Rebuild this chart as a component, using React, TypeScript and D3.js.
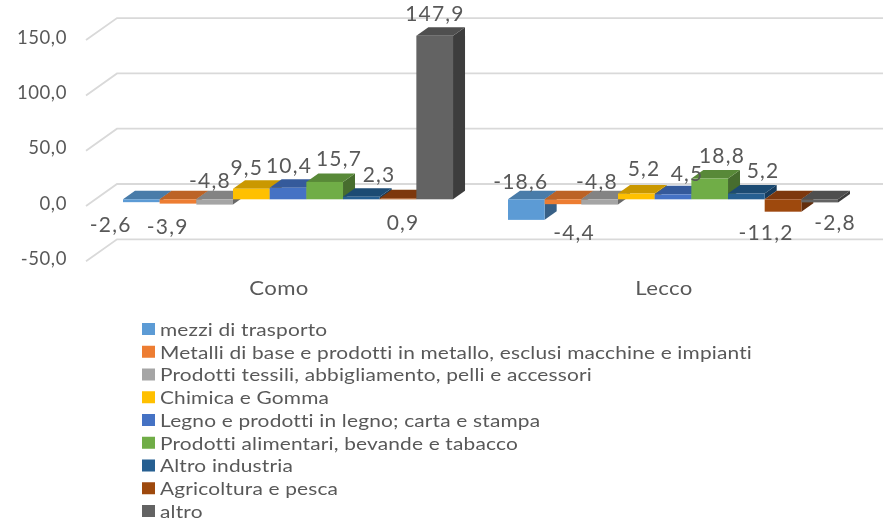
import React from "react";
import * as d3 from "d3";

const categories = ["Como", "Lecco"];
const series = [
  "mezzi di trasporto",
  "Metalli di base e prodotti in metallo, esclusi macchine e impianti",
  "Prodotti tessili, abbigliamento, pelli e accessori",
  "Chimica e Gomma",
  "Legno e prodotti in legno; carta e stampa",
  "Prodotti alimentari, bevande e tabacco",
  "Altro industria",
  "Agricoltura e pesca",
  "altro",
];
const comoValues = [-2.6, -3.9, -4.8, 9.5, 10.4, 15.7, 2.3, 0.9, 147.9];
const leccoValues = [-18.6, -4.4, -4.8, 5.2, 4.5, 18.8, 5.2, -11.2, -2.8];
const yTicks = [-50, 0, 50, 100, 150];
const colors = ["#5B9BD5", "#ED7D31", "#A5A5A5", "#FFC000", "#4472C4", "#70AD47", "#255E91", "#9E480E", "#636363"];

// hand-placed label offsets from bar centre / zero line
const comoLabelOffsets = [[-30.6, 23.7], [-10.3, 25.7], [-4.7, -20.3], [-4.6, -33.3], [1, -35.3], [14.3, -42.3], [17.7, -26.3], [5, 21.7], [0.3, -187.3]];
const leccoLabelOffsets = [[-5.6, -19.3], [11, 31.7], [-2.7, -19.3], [7.7, -32.3], [14, -27.3], [12.3, -45.3], [16.7, -30.3], [-17, 31.7], [15.3, 21.7]];

const W = 883, H = 520;
const y = d3.scaleLinear().domain([-50, 150]).range([199.3 + 55.3, 199.3 - 165.9]);
const groupStarts = [123, 508];
const barW = 36.67;
const depthX = 12, depthY = 8.5;
const INK = "#595959";
const FONT = "Lato, 'Open Sans', sans-serif";
const fmt = (v: number) => v.toFixed(1).replace(".", ",");
const shade = (c: string, k: number) => d3.rgb(c).darker(k).formatHex();

function Bar({ x, v, color }: { x: number; v: number; color: string }) {
  const top = Math.min(y(v), y(0));
  const bottom = Math.max(y(v), y(0));
  const r = x + barW;
  return (
    <g>
      <polygon points={`${r},${top} ${r + depthX},${top - depthY} ${r + depthX},${bottom - depthY} ${r},${bottom}`} fill={shade(color, 1.3)} />
      <polygon points={`${x},${top} ${x + depthX},${top - depthY} ${r + depthX},${top - depthY} ${r},${top}`} fill={shade(color, 0.65)} />
      <rect x={x} y={top} width={barW} height={bottom - top} fill={color} />
    </g>
  );
}

export default function App() {
  const groups = [comoValues, leccoValues];
  const offsets = [comoLabelOffsets, leccoLabelOffsets];
  const backOff = -15.3, frontOff = 6.7;
  return (
    <svg width={W} height={H} style={{ position: "absolute", left: 0, top: 0, background: "#fff" }} fontFamily={FONT}>
      <defs>
        <filter id="soft" x="-5%" y="-5%" width="110%" height="110%">
          <feGaussianBlur stdDeviation="0.5" />
        </filter>
      </defs>
      <g filter="url(#soft)">
        {yTicks.map((t) => (
          <g key={t}>
            <polyline
              points={`86,${y(t) + frontOff} 117,${y(t) + backOff} ${W},${y(t) + backOff}`}
              fill="none" stroke="#d9d9d9" strokeWidth={1.8}
            />
            <text x={67} y={y(t) + 3.2} textAnchor="end" dominantBaseline="central" fontSize={18.5} fill={INK} letterSpacing={0.6}>
              {fmt(t)}
            </text>
          </g>
        ))}
        {groups.map((vals, g) =>
          vals.map((v, i) => <Bar key={`${g}-${i}`} x={groupStarts[g] + i * barW} v={v} color={colors[i]} />)
        )}
        {groups.map((vals, g) =>
          vals.map((v, i) => (
            <text
              key={`l${g}-${i}`}
              x={groupStarts[g] + (i + 0.5) * barW + offsets[g][i][0]}
              y={y(0) + offsets[g][i][1]}
              textAnchor="middle" dominantBaseline="central" fontSize={21} fill={INK} letterSpacing={1.2}
            >
              {fmt(v)}
            </text>
          ))
        )}
        {categories.map((c, g) => (
          <text
            key={c}
            transform={`translate(${g === 0 ? 279 : 664},288) scale(1.2,1)`}
            textAnchor="middle" dominantBaseline="central" fontSize={18.5} fill={INK} letterSpacing={0.3}
          >
            {c}
          </text>
        ))}
        {series.map((s, i) => {
          const cy = 329 + i * 22.75;
          return (
            <g key={s}>
              <rect x={142} y={cy - 6} width={13} height={12} fill={colors[i]} />
              <text transform={`translate(160,${cy}) scale(1.16,1)`} dominantBaseline="central" fontSize={18} fill={INK} letterSpacing={0.15}>
                {s}
              </text>
            </g>
          );
        })}
      </g>
    </svg>
  );
}
